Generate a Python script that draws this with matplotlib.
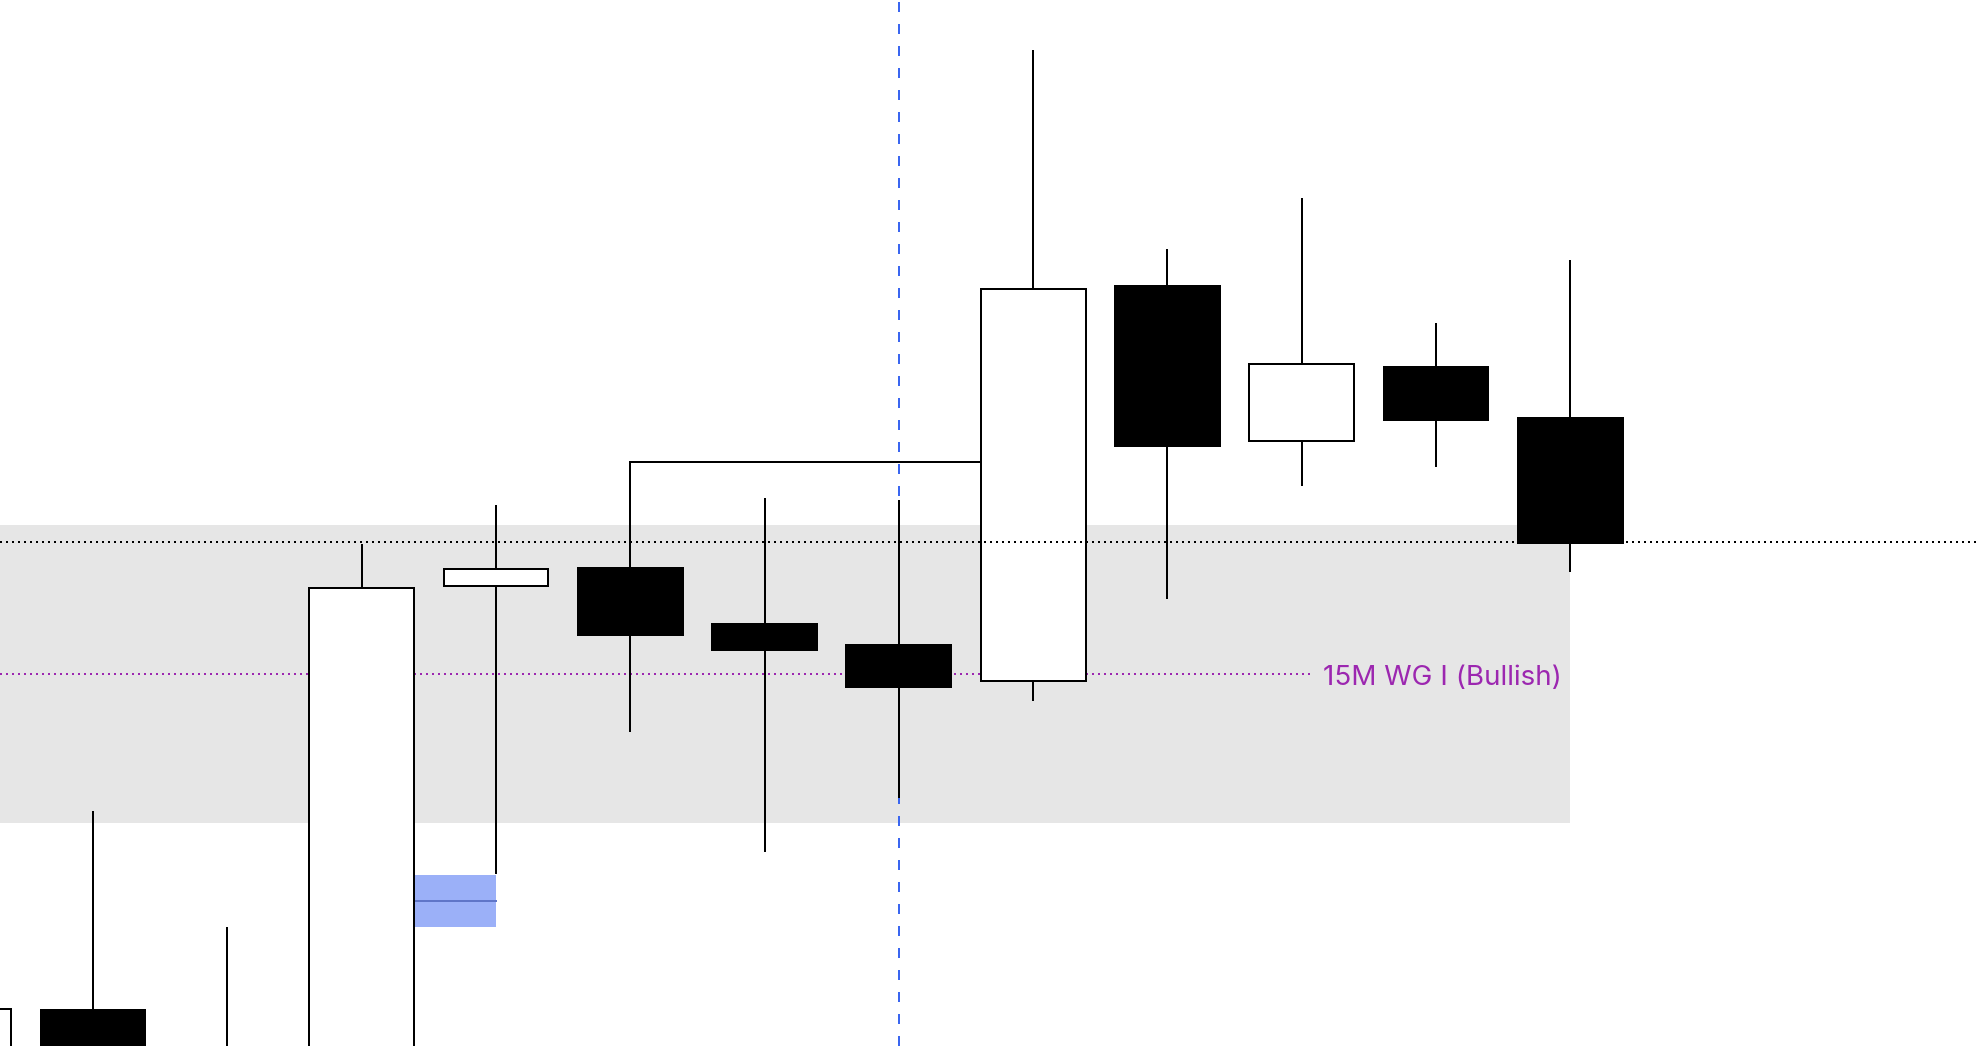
import matplotlib.pyplot as plt
import numpy as np

# candle index, open, high, low, close (price units)
idx = np.arange(13)
opens = [-5.0, 3.6, -2.0, -10.0, 46.0, 47.8, 42.2, 40.1, 36.5, 76.0, 60.5, 67.9, 62.8]
highs = [3.7, 23.5, 11.9, 50.2, 54.1, 58.4, 54.8, 54.6, 99.6, 79.7, 84.8, 72.3, 78.6]
lows = [-10.0, -10.0, -10.0, -12.0, 17.2, 31.4, 19.4, 24.8, 34.5, 44.7, 56.0, 57.9, 47.4]
closes = [3.7, -5.0, -6.0, 45.8, 47.7, 41.1, 39.6, 35.9, 75.7, 60.0, 68.2, 62.6, 50.3]

zone_top, zone_bottom = 52.1, 22.3
zone_end = 12
level_black = 50.4
level_purple = 37.2
purple_end = 10.06
label = "15M WG I (Bullish)"
box_top, box_mid, box_bottom = 17.1, 14.5, 11.9
vline_x = 7

width = 0.78
lw = 1.44

fig = plt.figure(figsize=(19.76, 10.46), dpi=100)
ax = fig.add_axes([0, 0, 1, 1])
ax.set_xlim(0.3075, 15.02)
ax.set_ylim(0, 104.6)
ax.axis('off')

# grey zone
ax.fill_between([ax.get_xlim()[0], zone_end], zone_bottom, zone_top, color='#e6e6e6', lw=0, zorder=0)

# purple dotted level + label
ax.plot([ax.get_xlim()[0], purple_end], [level_purple] * 2, color='#9c27b0', lw=lw, dashes=(1, 2), zorder=1)
ax.text(purple_end + 0.1, level_purple - 0.4, label, color='#9c27b0', fontsize=20, va='center', ha='left',
        family='Inter', zorder=5)

# blue dashed vertical
ax.axvline(vline_x, color='#3a66f0', lw=lw, dashes=(5, 6), zorder=1)

# blue box
ax.fill_between([3 + width / 2, 4], box_bottom, box_top, color='#9bb0f8', lw=0, zorder=2)
ax.plot([3 + width / 2, 4], [box_mid] * 2, color='#5f75c8', lw=lw, zorder=2)

# bracket from candle 5 high to candle 8 body
ax.plot([5, 5, 8 - width / 2], [closes[5], highs[5], highs[5]], color='black', lw=lw, zorder=3,
        solid_joinstyle='miter')

for i, o, h, l, c in zip(idx, opens, highs, lows, closes):
    ax.plot([i, i], [l, h], color='black', lw=lw, zorder=3, solid_capstyle='butt')
    face = 'white' if c >= o else 'black'
    ax.add_patch(plt.Rectangle((i - width / 2, min(o, c)), width, abs(c - o),
                               facecolor=face, edgecolor='black', lw=lw, zorder=4))

# black dotted level on top
ax.plot([ax.get_xlim()[0], ax.get_xlim()[1]], [level_black] * 2, color='black', lw=lw, dashes=(1, 2), zorder=6)

fig.savefig('out.png', dpi=100)
